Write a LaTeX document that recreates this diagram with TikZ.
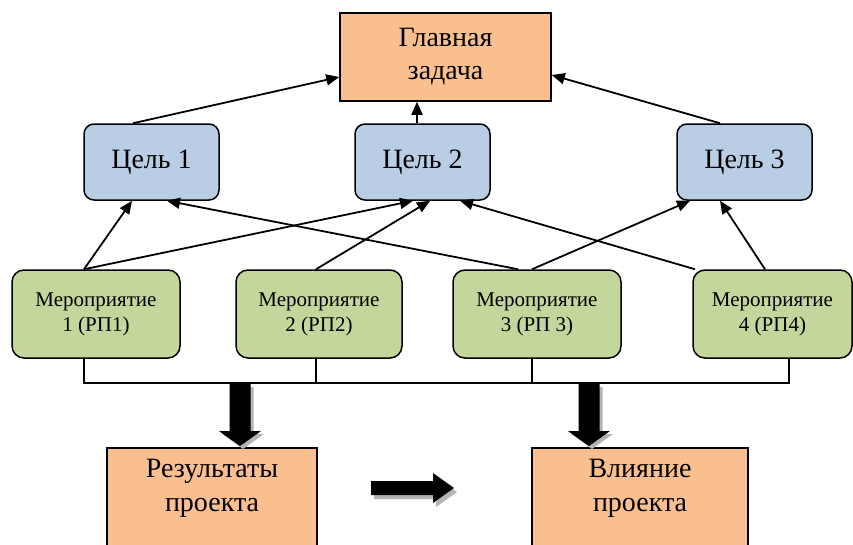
\documentclass[tikz,border=0pt]{standalone}
\usepackage{fontspec}
\setmainfont{Liberation Serif}
\usetikzlibrary{arrows.meta}
\definecolor{orangefill}{HTML}{F9BF8F}
\definecolor{bluefill}{HTML}{B9CDE5}
\definecolor{greenfill}{HTML}{C3D69B}
\definecolor{shadowgray}{HTML}{B4B4B4}
\begin{document}
\begin{tikzpicture}[x=1pt,y=-1pt,
  box/.style={draw=black,line width=1.5pt,inner sep=0pt,align=center},
  bigtext/.style={font=\fontsize{28}{34}\selectfont,align=center,inner sep=0pt},
  mainbox/.style={box,fill=orangefill,font=\fontsize{28}{33}\selectfont},
  goalbox/.style={box,fill=bluefill,rounded corners=10pt,font=\fontsize{28}{33}\selectfont,minimum width=135pt,minimum height=76pt},
  eventbox/.style={box,fill=greenfill,rounded corners=12pt,font=\fontsize{21}{25}\selectfont,minimum height=88pt},
  resbox/.style={box,fill=orangefill,minimum height=130pt,anchor=north},
  conn/.style={line width=1.8pt,-{Triangle[length=13pt,width=11pt]}},
  bus/.style={line width=1.3pt},
  blockdown/.pic={
    \fill[shadowgray] (-7.5,3) -- (13.5,3) -- (13.5,50) -- (24,50) -- (3,65) -- (-18,50) -- (-7.5,50) -- cycle;
    \fill[black] (-10.5,0) -- (10.5,0) -- (10.5,47) -- (21,47) -- (0,62) -- (-21,47) -- (-10.5,47) -- cycle;
  },
  blockright/.pic={
    \fill[shadowgray] (3,-3) -- (65,-3) -- (65,-11) -- (86,4) -- (65,19) -- (65,11) -- (3,11) -- cycle;
    \fill[black] (0,-7) -- (62,-7) -- (62,-15) -- (83,0) -- (62,15) -- (62,7) -- (0,7) -- cycle;
  },
]
\clip (0,0) rectangle (853,544);
\fill[white] (0,0) rectangle (853,544);

% main task
\node[mainbox,minimum width=211pt,minimum height=88pt] (main) at (445.5,57) {Главная\\задача};

% goals
\node[goalbox] (g1) at (151.5,162) {Цель 1};
\node[goalbox] (g2) at (422.5,162) {Цель 2};
\node[goalbox] (g3) at (744.5,162) {Цель 3};

% events
\node[eventbox,minimum width=168pt] (e1) at (96,314) {Мероприятие\\1 (РП1)};
\node[eventbox,minimum width=166pt] (e2) at (319,314) {Мероприятие\\2 (РП2)};
\node[eventbox,minimum width=168pt] (e3) at (537,314) {Мероприятие\\3 (РП 3)};
\node[eventbox,minimum width=159pt] (e4) at (772.5,314) {Мероприятие\\4 (РП4)};

% result boxes
\node[resbox,minimum width=210pt] (res) at (212,447) {};
\node[bigtext] (restxt) at (212,488) {Результаты\\проекта};
\node[resbox,minimum width=216pt] (inf) at (640,447) {};
\node[bigtext] (inftxt) at (640,488) {Влияние\\проекта};

% goal -> main
\draw[conn] ([xshift=-18.5pt]g1.north) -- ([yshift=-20pt]main.west);
\draw[conn] ([xshift=-5.5pt]g2.north) -- ([xshift=-28.5pt]main.south);
\draw[conn] ([xshift=-24.5pt]g3.north) -- ([yshift=-18pt]main.east);

% events -> goals
\draw[conn] ([xshift=-12pt]e1.north) -- ([xshift=-19.5pt]g1.south);
\draw[conn] ([xshift=-12pt]e1.north) -- ([xshift=-9.5pt]g2.south);
\draw[conn] ([xshift=-3pt]e2.north) -- ([xshift=7.5pt]g2.south);
\draw[conn] ([xshift=-19pt]e3.north) -- ([xshift=15.5pt]g1.south);
\draw[conn] ([xshift=-5pt]e3.north) -- ([xshift=-54.5pt]g3.south);
\draw[conn] ([xshift=-77.5pt]e4.north) -- ([xshift=37.5pt]g2.south);
\draw[conn] ([xshift=-7.5pt]e4.north) -- ([xshift=-24.5pt]g3.south);

% bus
\coordinate (busy) at (0,383);
\coordinate (b1) at ([xshift=-12pt]e1.south);
\coordinate (b2) at ([xshift=-3pt]e2.south);
\coordinate (b3) at ([xshift=-5pt]e3.south);
\coordinate (b4) at ([xshift=16.5pt]e4.south);
\draw[bus] (b1) -- (b1 |- busy) -- (b4 |- busy) -- (b4);
\draw[bus] (b2) -- (b2 |- busy);
\draw[bus] (b3) -- (b3 |- busy);

% block arrows
\pic at (240,384) {blockdown};
\pic at (589,384) {blockdown};
\pic at (371,488) {blockright};
\end{tikzpicture}
\end{document}
